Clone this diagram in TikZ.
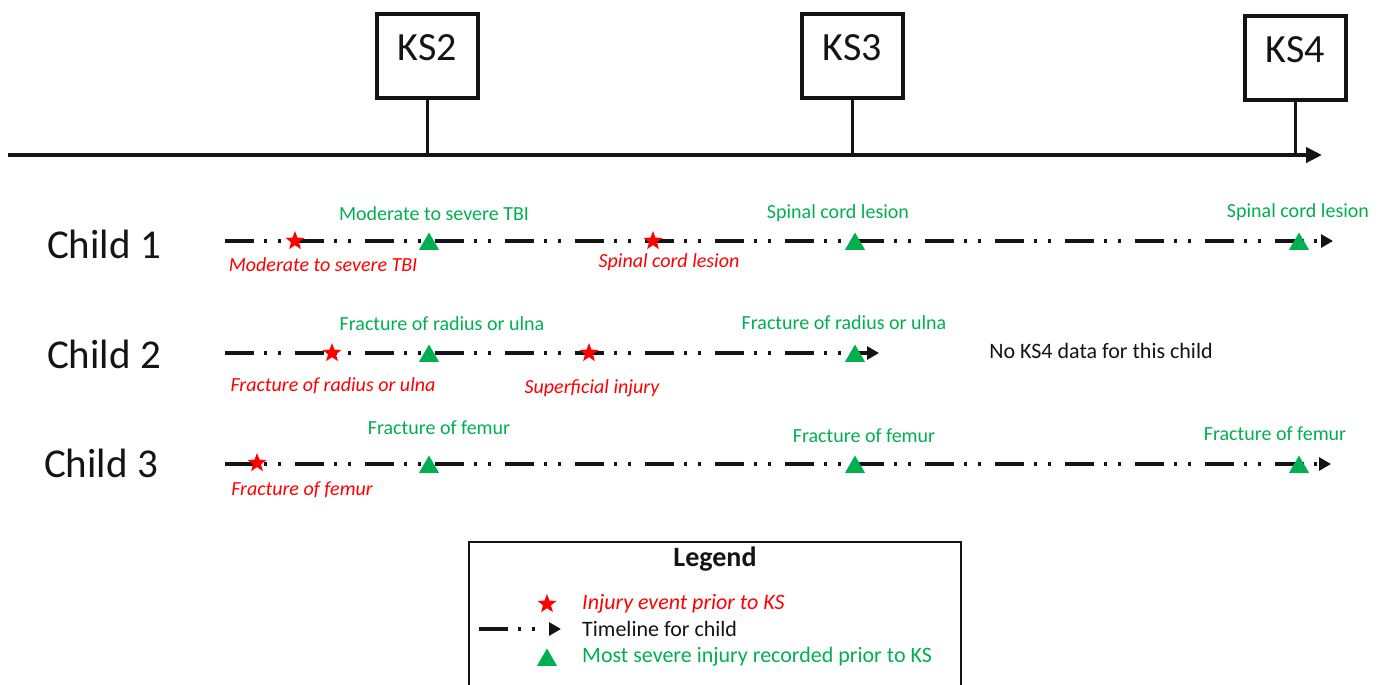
\documentclass[tikz,border=0pt]{standalone}
\usepackage{fontspec}
\setmainfont{Carlito}
\usetikzlibrary{arrows.meta,shapes.geometric}
\definecolor{injred}{RGB}{255,0,0}
\definecolor{injgreen}{RGB}{0,176,80}
\definecolor{inkdark}{RGB}{20,20,20}
\begin{document}
\begin{tikzpicture}[x=1pt,y=-1pt,
  ksbox/.style={draw=inkdark, line width=4pt, minimum width=101pt, minimum height=84pt, inner sep=0pt,
    font=\fontsize{40}{48}\selectfont, text height=26pt, text depth=17pt, text=inkdark},
  childlab/.style={font=\fontsize{41}{49}\selectfont, text=inkdark, inner sep=0pt},
  tl/.style={line width=4pt, draw=inkdark, dash pattern=on 29pt off 10pt on 3pt off 11pt on 3pt off 14pt,
    -{Triangle[length=12pt,width=13pt]}},
  starmk/.style={star, star points=5, star point ratio=2.4, fill=injred, draw=none, inner sep=0pt, minimum size=20pt},
  trimk/.style={regular polygon, regular polygon sides=3, fill=injgreen, draw=none, inner sep=0pt, minimum size=23pt},
  glab/.style={text=injgreen, font=\fontsize{20}{23}\selectfont, inner sep=0pt},
  rlab/.style={text=injred, font=\fontsize{20}{23}\selectfont\itshape, inner sep=0pt},
  leglab/.style={font=\fontsize{22}{26}\selectfont, inner sep=0pt, anchor=west}
]
\useasboundingbox (0,0) rectangle (1387,685);
\clip (0,0) rectangle (1387,685);

% main axis with key stages
\coordinate (axS) at (8,155);
\coordinate (axE) at (1322,155);
\draw[line width=4.5pt, draw=inkdark, -{Triangle[length=16pt,width=15pt]}] (axS) -- (axE);
\node[ksbox] (ks2) at (427.5,56) {KS2};
\node[ksbox] (ks3) at (852.5,56) {KS3};
\node[ksbox] (ks4) at (1295.5,58) {KS4};
\draw[line width=3.5pt, draw=inkdark] (ks2.south) -- (ks2.south |- axS);
\draw[line width=3.5pt, draw=inkdark] (ks3.south) -- (ks3.south |- axS);
\draw[line width=3.5pt, draw=inkdark] (ks4.south) -- (ks4.south |- axS);

% child labels
\node[childlab] (c1) at (104,244) {Child 1};
\node[childlab] (c2) at (104,354) {Child 2};
\node[childlab] (c3) at (101,463) {Child 3};

% timelines
\coordinate (t1s) at (225,241); \coordinate (t1e) at (1333,241);
\coordinate (t2s) at (225,353); \coordinate (t2e) at (879,353);
\coordinate (t3s) at (225,464); \coordinate (t3e) at (1331,464);
\draw[tl] (t1s) -- (t1e);
\draw[tl] (t2s) -- (t2e);
\draw[tl] (t3s) -- (t3e);

% child 1 markers
\node[starmk] (s11) at (295,241) {};
\node[trimk] (g11) at (429,244) {};
\node[starmk] (s12) at (653,241) {};
\node[trimk] (g12) at (855,244) {};
\node[trimk] (g13) at (1299,244) {};
% child 2 markers
\node[starmk] (s21) at (332,353) {};
\node[trimk] (g21) at (429,356) {};
\node[starmk] (s22) at (589,353) {};
\node[trimk] (g22) at (855,356) {};
% child 3 markers
\node[starmk] (s31) at (257,463) {};
\node[trimk] (g31) at (429,467) {};
\node[trimk] (g32) at (855,467) {};
\node[trimk] (g33) at (1299,467) {};

% green labels (most severe injury)
\node[glab] (lg11) at (434,214) {Moderate to severe TBI};
\node[glab] (lg12) at (838,213) {Spinal cord lesion};
\node[glab] (lg13) at (1298,212) {Spinal cord lesion};
\node[glab] (lg21) at (442,324) {Fracture of radius or ulna};
\node[glab] (lg22) at (844,323) {Fracture of radius or ulna};
\node[glab] (lg31) at (439,428) {Fracture of femur};
\node[glab] (lg32) at (864,436) {Fracture of femur};
\node[glab] (lg33) at (1275,434) {Fracture of femur};

% red labels (injury events)
\node[rlab] (lr11) at (323,265) {Moderate to severe TBI};
\node[rlab] (lr12) at (669,262) {Spinal cord lesion};
\node[rlab] (lr21) at (333,386) {Fracture of radius or ulna};
\node[rlab] (lr22) at (592,388) {Superficial injury};
\node[rlab] (lr31) at (302,490) {Fracture of femur};

\node[font=\fontsize{22}{26}\selectfont, text=inkdark, inner sep=0pt] (nok) at (1101,351) {No KS4 data for this child};

% legend
\draw[line width=1.5pt, draw=inkdark] (469,690) -- (469,542) -- (961,542) -- (961,690);
\node[font=\fontsize{28}{32}\selectfont\bfseries, text=inkdark, inner sep=0pt] (legt) at (715,559) {Legend};
\node[starmk] (legs) at (547,604) {};
\node[leglab, text=injred, font=\fontsize{22}{26}\selectfont\itshape] (legst) at (582,604) {Injury event prior to KS};
\coordinate (legA) at (479,629); \coordinate (legB) at (561,629);
\draw[tl] (legA) -- (legB);
\node[leglab, text=inkdark] (legtt) at (582,629) {Timeline for child};
\node[trimk] (legg) at (547,660) {};
\node[leglab, text=injgreen] (leggt) at (582,657) {Most severe injury recorded prior to KS};
\end{tikzpicture}
\end{document}
